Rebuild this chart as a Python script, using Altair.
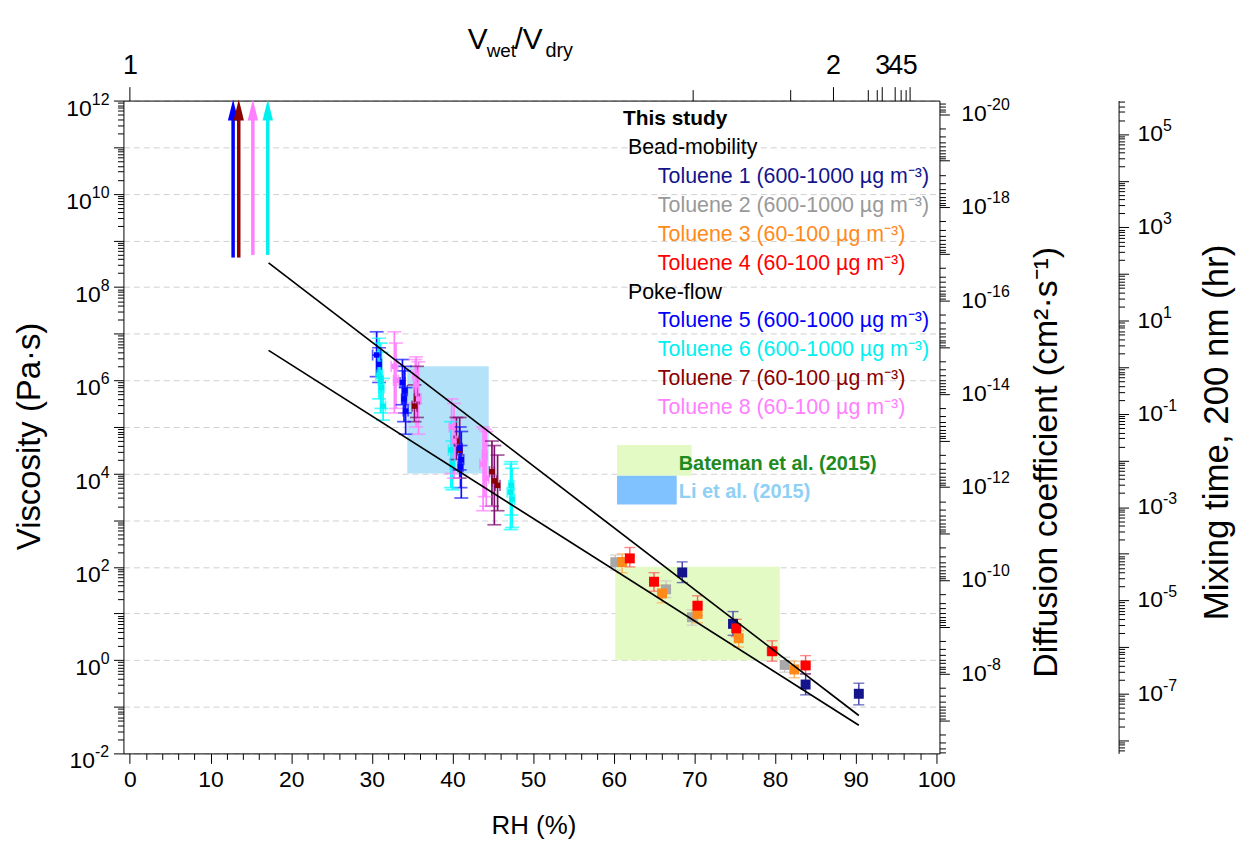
import altair as alt
import pandas as pd

FONT = "Liberation Sans"

# ---------------- data ----------------
series = ["Toluene 1", "Toluene 2", "Toluene 3", "Toluene 4",
          "Toluene 5", "Toluene 6", "Toluene 7", "Toluene 8"]
conc = ["600-1000", "600-1000", "60-100", "60-100",
        "600-1000", "600-1000", "60-100", "60-100"]
marker_colors = ["#14148c", "#a8a8a8", "#ff8a1a", "#ff0000",
                 "#0000ff", "#00f0f0", "#8b0000", "#ff80ff"]
bar_colors = ["#3a3aa8", "#c8c8c8", "#ffaa50", "#ff5a5a",
              "#1010ff", "#00ffff", "#801070", "#ff80ff"]

# Bead-mobility
t1_rh = [68.5, 74.8, 83.8, 90.4]
t1_eta = [76, 6.0, 0.30, 0.19]
t1_lo = [46, 3.4, 0.18, 0.11]
t1_hi = [128, 11, 0.51, 0.32]
t1_dx = [0.2, 0.45, 0.3, 0.3]

t2_rh = [60.2, 66.5, 69.7, 81.2]
t2_eta = [126, 33, 8.3, 0.79]
t2_lo = [85, 22, 5.6, 0.55]
t2_hi = [180, 50, 12, 1.15]
t2_dx = [0.4, 0.3, 0.3, 0.4]

t3_rh = [61.05, 66.0, 70.4, 75.5, 82.4]
t3_eta = [127, 27, 9.8, 2.95, 0.63]
t3_lo = [75, 17, 6.3, 1.9, 0.42]
t3_hi = [190, 40, 15, 4.3, 0.95]
t3_dx = [0.35, 0.3, 0.3, 0.3, 0.4]

t4_rh = [62.0, 65.0, 70.4, 75.2, 79.65, 83.8]
t4_eta = [152, 48, 14.7, 4.8, 1.55, 0.77]
t4_lo = [100, 30, 9, 3.2, 0.95, 0.5]
t4_hi = [260, 75, 24, 7.5, 2.6, 1.25]
t4_dx = [0.3, 0.35, 0.55, 0.4, 0.6, 0.55]

# Poke-flow
t5_rh = [30.6, 30.9, 33.8, 34.0, 34.2, 34.1, 40.9, 41.1, 41.0]
t5_eta = [3.5e6, 2.2e6, 9e5, 4e5, 2.2e5, 6e5, 3.5e4, 2e4, 1.4e4]
t5_lo = [1.2e6, 9e5, 3e5, 1.3e5, 7e4, 2e5, 1.2e4, 3e3, 5e3]
t5_hi = [1.1e7, 5e6, 2.8e6, 1.6e6, 7e5, 2e6, 1e5, 8e4, 4e4]
t5_dx = [0.5, 0.3, 0.3, 0.3, 0.3, 0.3, 0.3, 0.3, 0.3]

t6_rh = [30.9, 31.2, 31.4, 31.1, 39.8, 40.0, 47.2, 47.4, 47.3]
t6_eta = [1.3e6, 7e5, 2.8e5, 1e6, 3.2e4, 1.6e4, 4e3, 2.8e3, 5.6e3]
t6_lo = [4e5, 2.5e5, 1.4e5, 2e5, 5e3, 4.5e3, 6.3e2, 7e2, 1.3e3]
t6_hi = [8e6, 4e6, 1.1e6, 6.3e6, 1.3e5, 5e4, 1.6e4, 1.3e4, 1.8e4]
t6_dx = [0.4, 0.3, 0.3, 0.3, 0.3, 0.3, 0.4, 0.3, 0.3]

t7_rh = [35.3, 35.6, 40.5, 40.9, 44.9, 45.2, 45.6]
t7_eta = [2.8e5, 4e5, 5e4, 3.2e4, 1.1e4, 7e3, 5.6e3]
t7_lo = [1.3e5, 1.6e5, 2e4, 8e3, 2e3, 8e2, 1.6e3]
t7_hi = [8e5, 2e6, 1.6e5, 1.6e5, 5e4, 4e4, 2.5e4]
t7_dx = [0.3, 0.3, 0.3, 0.3, 0.3, 0.3, 0.3]

t8_rh = [32.8, 33.0, 35.5, 35.8, 35.4, 39.9, 40.2, 43.8, 44.2, 44.0]
t8_eta = [2e6, 1e6, 8e5, 4e5, 1.3e6, 1e5, 5e4, 1.6e4, 8e3, 2.5e4]
t8_lo = [2e5, 2.5e5, 1e5, 7e4, 3.2e5, 1e4, 8e3, 1.6e3, 2e3, 3.2e3]
t8_hi = [1.1e7, 6.3e6, 3.2e6, 2.5e6, 2.8e6, 4e5, 3.2e5, 1e5, 8e4, 9e4]
t8_dx = [0.4, 0.3, 0.3, 0.3, 0.3, 0.3, 0.3, 0.4, 0.3, 0.3]

# Lower limits (arrows) for the driest conditions
arrow_series = ["Toluene 5", "Toluene 7", "Toluene 8", "Toluene 6"]
arrow_rh = [12.8, 13.5, 15.25, 17.1]
arrow_lo = [4.3e8, 4.3e8, 4.9e8, 4.9e8]
arrow_top = 4e11
arrow_head = 6.3e11

# Fitted lines
fit_rh = [17.2, 90.4]
fit_upper = [3.3e8, 0.065]
fit_lower = [4.4e6, 0.040]

# Literature ranges
li_rh = [34.4, 44.5]
li_eta = [1e4, 2e6]
bateman_rh = [60.2, 80.6]
bateman_eta = [1, 100]

# Axis tick values
eta_decades = [10.0 ** k for k in range(-2, 13)]
eta_minor = [m * 10.0 ** k for k in range(-2, 12) for m in range(2, 10)]
eta_label_exp = list(range(12, -3, -2))
rh_major = list(range(0, 101, 10))
rh_minor = [v for v in range(0, 101, 2) if v % 10 != 0]
v_ratio_labels = ["1", "2", "3", "4", "5"]
v_ratio_rh = [0, 87.2, 93.3, 94.9, 96.7]
v_ratio_minor_rh = [69.8, 81.9, 91.5, 92.6, 95.6, 96.2]
D_domain = [10 ** -20.29, 10 ** -6.29]
D_decades = [10.0 ** k for k in range(-20, -6)]
D_minor = [m * 10.0 ** k for k in range(-21, -6) for m in range(2, 10)
           if D_domain[0] <= m * 10.0 ** k <= D_domain[1]]
D_label_exp = list(range(-20, -7, 2))
mix_domain = [10 ** -8.28, 10 ** 5.72]
mix_decades = [10.0 ** k for k in range(-8, 6)]
mix_minor = [m * 10.0 ** k for k in range(-9, 6) for m in range(2, 10)
             if mix_domain[0] <= m * 10.0 ** k <= mix_domain[1]]
mix_label_exp = list(range(5, -8, -2))

# ---------------- build frames ----------------
def frame(name, rh, eta, lo, hi, dx):
    return pd.DataFrame({
        "series": name, "rh": rh, "eta": eta, "lo": lo, "hi": hi,
        "rh_lo": [r - d for r, d in zip(rh, dx)],
        "rh_hi": [r + d for r, d in zip(rh, dx)],
    })

bead = pd.concat([
    frame("Toluene 1", t1_rh, t1_eta, t1_lo, t1_hi, t1_dx),
    frame("Toluene 2", t2_rh, t2_eta, t2_lo, t2_hi, t2_dx),
    frame("Toluene 3", t3_rh, t3_eta, t3_lo, t3_hi, t3_dx),
    frame("Toluene 4", t4_rh, t4_eta, t4_lo, t4_hi, t4_dx),
], ignore_index=True)
poke = pd.concat([
    frame("Toluene 7", t7_rh, t7_eta, t7_lo, t7_hi, t7_dx),
    frame("Toluene 5", t5_rh, t5_eta, t5_lo, t5_hi, t5_dx),
    frame("Toluene 6", t6_rh, t6_eta, t6_lo, t6_hi, t6_dx),
    frame("Toluene 8", t8_rh, t8_eta, t8_lo, t8_hi, t8_dx),
], ignore_index=True)

xs = alt.Scale(domain=[-0.8, 100.4], nice=False, zero=False)
ys = alt.Scale(type="log", domain=[1e-2, 1e12], nice=False)
Dscale = alt.Scale(type="log", domain=D_domain, nice=False, reverse=True)
Mscale = alt.Scale(type="log", domain=mix_domain, nice=False)
bar_color = alt.Color("series:N", scale=alt.Scale(domain=series, range=bar_colors), legend=None)
mk_color = alt.Color("series:N", scale=alt.Scale(domain=series, range=marker_colors), legend=None)


def X(f):
    return alt.X(f"{f}:Q", scale=xs, axis=None)


def Y(f):
    return alt.Y(f"{f}:Q", scale=ys, axis=None)


def PX(f):
    return alt.X(f"{f}:Q", scale=None, axis=None)


def PY(f):
    return alt.Y(f"{f}:Q", scale=None, axis=None)


layers = []

# literature boxes
boxes = pd.DataFrame({"name": ["Li", "Bateman"],
                      "x1": [li_rh[0], bateman_rh[0]], "x2": [li_rh[1], bateman_rh[1]],
                      "y1": [li_eta[0], bateman_eta[0]], "y2": [li_eta[1], bateman_eta[1]]})
layers.append(alt.Chart(boxes).mark_rect().encode(
    x=X("x1"), x2="x2", y=Y("y1"), y2="y2",
    color=alt.Color("name:N", scale=alt.Scale(domain=["Li", "Bateman"],
                                              range=["#b4e2f8", "#e4fac4"]), legend=None)))


def errbars(df, cap, w):
    base = alt.Chart(df)
    return [
        base.mark_rule(strokeWidth=w).encode(x=X("rh"), y=Y("lo"), y2="hi", color=bar_color),
        base.mark_rule(strokeWidth=w).encode(x=X("rh_lo"), x2="rh_hi", y=Y("eta"), color=bar_color),
        base.mark_tick(orient="horizontal", size=cap, thickness=w).encode(x=X("rh"), y=Y("lo"), color=bar_color),
        base.mark_tick(orient="horizontal", size=cap, thickness=w).encode(x=X("rh"), y=Y("hi"), color=bar_color),
        base.mark_tick(orient="vertical", size=cap * 0.8, thickness=w).encode(x=X("rh_lo"), y=Y("eta"), color=bar_color),
        base.mark_tick(orient="vertical", size=cap * 0.8, thickness=w).encode(x=X("rh_hi"), y=Y("eta"), color=bar_color),
    ]


layers += errbars(poke, 14, 1.7)
layers.append(alt.Chart(poke).mark_point(shape="square", filled=True, size=30, opacity=1).encode(
    x=X("rh"), y=Y("eta"), color=mk_color))
layers += errbars(bead, 11, 1.4)
layers.append(alt.Chart(bead).mark_point(shape="square", filled=True, size=100, opacity=1).encode(
    x=X("rh"), y=Y("eta"), color=mk_color))

# arrows
arrows = pd.DataFrame({"series": arrow_series, "rh": arrow_rh, "lo": arrow_lo,
                       "top": arrow_top, "head": arrow_head})
layers.append(alt.Chart(arrows).mark_rule(strokeWidth=3.5).encode(
    x=X("rh"), y=Y("lo"), y2="top", color=mk_color))
layers.append(alt.Chart(arrows).mark_point(shape="M0,-1L0.5,1L-0.5,1Z", filled=True,
                                           size=441, opacity=1).encode(
    x=X("rh"), y=Y("head"), color=mk_color))

# fitted lines
fits = pd.DataFrame({"line": ["a", "a", "b", "b"], "rh": fit_rh + fit_rh,
                     "eta": fit_upper + fit_lower})
layers.append(alt.Chart(fits).mark_line(color="black", strokeWidth=1.7).encode(
    x=X("rh"), y=Y("eta"), detail="line:N"))

# ---------------- legend (text) ----------------
leg_text = ["This study", "Bead-mobility"]
leg_colors = ["black", "black"]
leg_level = [0, 1]
for i in range(4):
    leg_text.append(f"{series[i]} ({conc[i]} µg m⁻³)")
    leg_colors.append(marker_colors[i] if i != 1 else "#999999")
    leg_level.append(2)
leg_text.append("Poke-flow")
leg_colors.append("black")
leg_level.append(1)
for i in range(4, 8):
    leg_text.append(f"{series[i]} ({conc[i]} µg m⁻³)")
    leg_colors.append(marker_colors[i])
    leg_level.append(2)
indent = {0: 502, 1: 507, 2: 537}
leg = pd.DataFrame({"t": leg_text, "c": leg_colors,
                    "px": [indent[l] for l in leg_level],
                    "py": [19 + 29.0 * i for i in range(len(leg_text))]})
layers.append(alt.Chart(leg.iloc[:1]).mark_text(align="left", baseline="middle", font=FONT,
                                                fontSize=21, fontWeight="bold").encode(
    x=PX("px"), y=PY("py"), text="t:N", color=alt.Color("c:N", scale=None, legend=None)))
layers.append(alt.Chart(leg.iloc[1:]).mark_text(align="left", baseline="middle", font=FONT,
                                                fontSize=21.5).encode(
    x=PX("px"), y=PY("py"), text="t:N", color=alt.Color("c:N", scale=None, legend=None)))

lit_names = ["Bateman et al. (2015)", "Li et al. (2015)"]
lit_sw = pd.DataFrame({"x1": [496, 496], "x2": [571, 556], "y1": [346, 377], "y2": [377, 406],
                       "c": ["#e4fac4", "#80c2ff"]})
layers.append(alt.Chart(lit_sw).mark_rect().encode(
    x=PX("x1"), x2="x2", y=PY("y1"), y2="y2", color=alt.Color("c:N", scale=None, legend=None)))
lit_txt = pd.DataFrame({"t": lit_names, "c": ["#1f8a1f", "#8fd0f5"], "px": [558, 558], "py": [365, 393]})
layers.append(alt.Chart(lit_txt).mark_text(align="left", baseline="middle", font=FONT,
                                           fontSize=20, fontWeight="bold").encode(
    x=PX("px"), y=PY("py"), text="t:N", color=alt.Color("c:N", scale=None, legend=None)))

# top axis title V_wet/V_dry
vt = pd.DataFrame({"t": ["V", "wet", "/V", "dry"], "px": [346, 365, 393, 424],
                   "py": [-52, -44, -52, -44], "fs": [30, 19, 30, 20]})
layers.append(alt.Chart(vt).mark_text(align="left", baseline="alphabetic", font=FONT, color="black").encode(
    x=PX("px"), y=PY("py"), text="t:N", size=alt.Size("fs:Q", scale=None, legend=None)))

# ---------------- axes ----------------
common = dict(labelFont=FONT, labelColor="black", tickColor="black", domainColor="black",
              titleFont=FONT, titleColor="black", titleFontWeight="normal",
              labelOverlap=False, labelFlush=False)
dummy_y = pd.DataFrame({"v": [1.0]})
dummy_x = pd.DataFrame({"v": [50.0]})


def yax(scale, axis):
    return alt.Chart(dummy_y).mark_point(opacity=0).encode(y=alt.Y("v:Q", scale=scale, axis=axis))


def xax(scale, axis):
    return alt.Chart(dummy_x).mark_point(opacity=0).encode(x=alt.X("v:Q", scale=scale, axis=axis))


minor = dict(labels=False, domain=False, grid=False, title=None, tickColor="black", tickSize=6)

layers.append(yax(ys, alt.Axis(orient="left", values=eta_decades, labels=False,
                               tickSize=10, grid=True, gridColor="#d0d0d0", gridDash=[6, 4], gridWidth=1,
                               title="Viscosity (Pa·s)", titleFontSize=33, titleAngle=270,
                               titleX=-94, titleY=337, titleAlign="center", titleBaseline="middle",
                               **common)))
layers.append(yax(ys, alt.Axis(orient="left", values=eta_minor, **minor)))

layers.append(xax(xs, alt.Axis(orient="bottom", values=rh_major, tickSize=10, labelFontSize=23,
                               labelPadding=5, grid=False, title="RH (%)", titleFontSize=26,
                               titleX=412, titleY=72, titleAlign="center", titleBaseline="middle",
                               **common)))
layers.append(xax(xs, alt.Axis(orient="bottom", values=rh_minor, **minor)))

top_expr = "".join(f"(abs(datum.value-{v})<0.01) ? '{l}' : " for v, l in zip(v_ratio_rh, v_ratio_labels)) + "''"
layers.append(xax(xs, alt.Axis(orient="top", values=v_ratio_rh, labelExpr=top_expr,
                               tickSize=14, labelFontSize=27, labelPadding=7, grid=False, title=None,
                               **common)))
layers.append(xax(xs, alt.Axis(orient="top", values=v_ratio_minor_rh, labels=False, domain=False,
                               grid=False, title=None, tickColor="black", tickSize=11)))

layers.append(yax(Dscale, alt.Axis(orient="right", values=D_decades, labels=False,
                                   tickSize=10, grid=False,
                                   title="Diffusion coefficient (cm²·s⁻¹)", titleFontSize=34,
                                   titleAngle=270, titleX=108, titleY=363, titleAlign="center",
                                   titleBaseline="middle", **common)))
layers.append(yax(Dscale, alt.Axis(orient="right", values=D_minor, **minor)))

layers.append(yax(Mscale, alt.Axis(orient="right", offset=180, values=mix_decades, labels=False,
                                   tickSize=10, grid=False,
                                   title="Mixing time, 200 nm (hr)", titleFontSize=35,
                                   titleAngle=270, titleX=98, titleY=333, titleAlign="center",
                                   titleBaseline="middle", **common)))
layers.append(yax(Mscale, alt.Axis(orient="right", offset=180, values=mix_minor, **minor)))


# power-of-ten tick labels drawn as "10" plus a raised exponent
BASE_FS, EXP_FS = 23, 16
DIGIT_W = 0.556 * EXP_FS
MINUS_W = 0.36 * EXP_FS


def exp_width(k):
    s = str(k)
    return sum(MINUS_W if ch == "-" else DIGIT_W for ch in s)


def pow_labels(scale, exps, anchor, right_aligned, base_dy, exp_dy):
    vals = [10.0 ** k for k in exps]
    ex = [str(k) for k in exps]
    if right_aligned:
        xe = [anchor - exp_width(k) for k in exps]
        xb = xe
    else:
        xb = [anchor] * len(exps)
        xe = [anchor + 2 * 0.556 * BASE_FS] * len(exps)
    df = pd.DataFrame({"v": vals, "e": ex, "xb": xb, "xe": xe})
    yenc = alt.Y("v:Q", scale=scale, axis=None)
    base = alt.Chart(df).mark_text(align="right" if right_aligned else "left", baseline="middle",
                                   font=FONT, fontSize=BASE_FS, color="black", dy=base_dy).encode(
        x=PX("xb"), y=yenc, text=alt.value("10"))
    sup = alt.Chart(df).mark_text(align="left", baseline="middle", font=FONT, fontSize=EXP_FS,
                                  color="black", dy=exp_dy).encode(x=PX("xe"), y=yenc, text="e:N")
    return [base, sup]


layers += pow_labels(ys, eta_label_exp, -14, True, 8, -1)
layers += pow_labels(Dscale, D_label_exp, 842, False, 0, -9)
layers += pow_labels(Mscale, mix_label_exp, 1019, False, 0, -8)

chart = alt.layer(*layers).resolve_scale(
    x="independent", y="independent", color="independent", size="independent"
).properties(
    width=820, height=656,
    padding={"left": 116, "top": 91, "right": 300, "bottom": 85},
    autosize=alt.AutoSizeParams(type="none"),
    background="white",
).configure_view(stroke=None)

chart.save("out.html", embed_options={"renderer": "svg", "actions": False})
